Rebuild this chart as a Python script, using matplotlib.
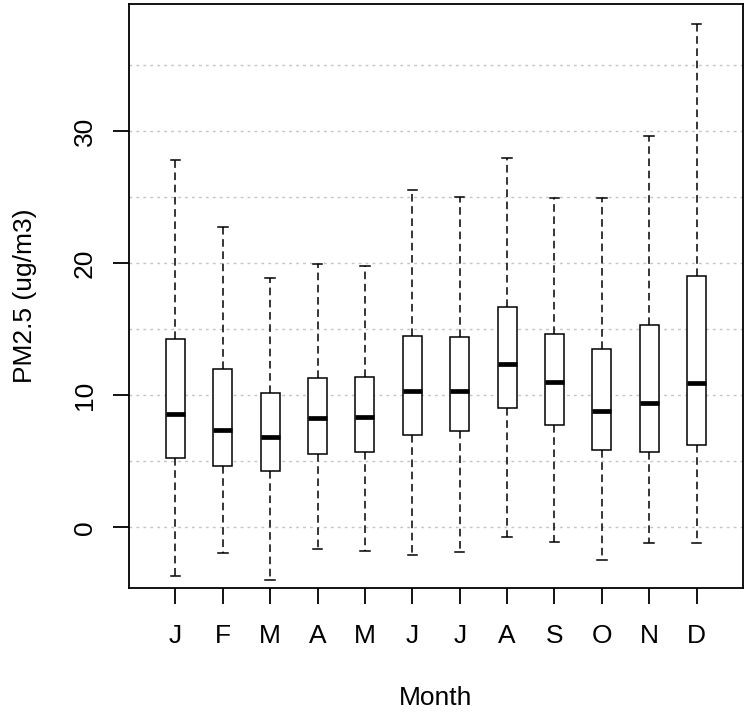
import matplotlib
matplotlib.use("Agg")
import matplotlib.pyplot as plt

months = ["J", "F", "M", "A", "M", "J", "J", "A", "S", "O", "N", "D"]
whislo = [-3.67, -1.97, -3.99, -1.62, -1.80, -2.10, -1.85, -0.71, -1.09, -2.50, -1.21, -1.21]
q1 = [5.23, 4.67, 4.29, 5.58, 5.73, 7.02, 7.30, 9.06, 7.73, 5.83, 5.68, 6.26]
med = [8.58, 7.37, 6.86, 8.28, 8.38, 10.35, 10.35, 12.37, 11.01, 8.83, 9.42, 10.93]
q3 = [14.30, 11.97, 10.15, 11.31, 11.39, 14.49, 14.42, 16.69, 14.64, 13.51, 15.33, 19.06]
whishi = [27.85, 22.75, 18.90, 19.95, 19.80, 25.55, 25.05, 28.00, 24.95, 24.97, 29.67, 38.13]
y_ticks = [0, 10, 20, 30]
grid_vals = [0, 5, 10, 15, 20, 25, 30, 35]

plt.rcParams['font.family'] = ['Liberation Sans', 'DejaVu Sans']

fig = plt.figure(figsize=(7.45, 7.15), dpi=100)
ax = fig.add_axes([129 / 745, 1 - 588.3 / 715, (743 - 129) / 745, (588.3 - 4) / 715])

for g in grid_vals:
    ax.axhline(g, color='#C4C4C4', lw=1.0, linestyle=(0, (2, 3)), zorder=1)

stats = []
for i in range(len(months)):
    stats.append(dict(label=months[i], whislo=whislo[i], q1=q1[i], med=med[i],
                      q3=q3[i], whishi=whishi[i], fliers=[]))

ax.bxp(stats, positions=list(range(1, len(months) + 1)), widths=0.4,
       capwidths=0.2, patch_artist=True, showfliers=False,
       boxprops=dict(facecolor='white', edgecolor='black', linewidth=1.1),
       medianprops=dict(color='black', linewidth=3.4, solid_capstyle='butt'),
       whiskerprops=dict(color='black', linewidth=1.1, linestyle=(0, (5, 3))),
       capprops=dict(color='black', linewidth=1.1), zorder=3)

ax.set_xlim(0.02, 12.98)
ax.set_ylim(-4.62, 39.64)
ax.set_yticks(y_ticks)
ax.set_yticklabels([str(t) for t in y_ticks])
ax.set_xticks(range(1, len(months) + 1))
ax.set_xticklabels(months)

for s in ax.spines.values():
    s.set_linewidth(1.3)
    s.set_color('black')

ax.tick_params(axis='both', direction='out', length=11.3, width=1.3,
               labelsize=19, colors='black')
ax.tick_params(axis='x', pad=14.5)
ax.tick_params(axis='y', pad=12)
for lab in ax.get_yticklabels():
    lab.set_rotation(90)
    lab.set_va('center')
    lab.set_ha('right')

ax.set_xlabel("Month", fontsize=19)
ax.set_ylabel("PM2.5 (ug/m3)", fontsize=19)
ax.xaxis.set_label_coords(0.5, -0.167)
ax.yaxis.set_label_coords(-0.150, 0.5)

fig.savefig("out.png", dpi=100, facecolor='white')
